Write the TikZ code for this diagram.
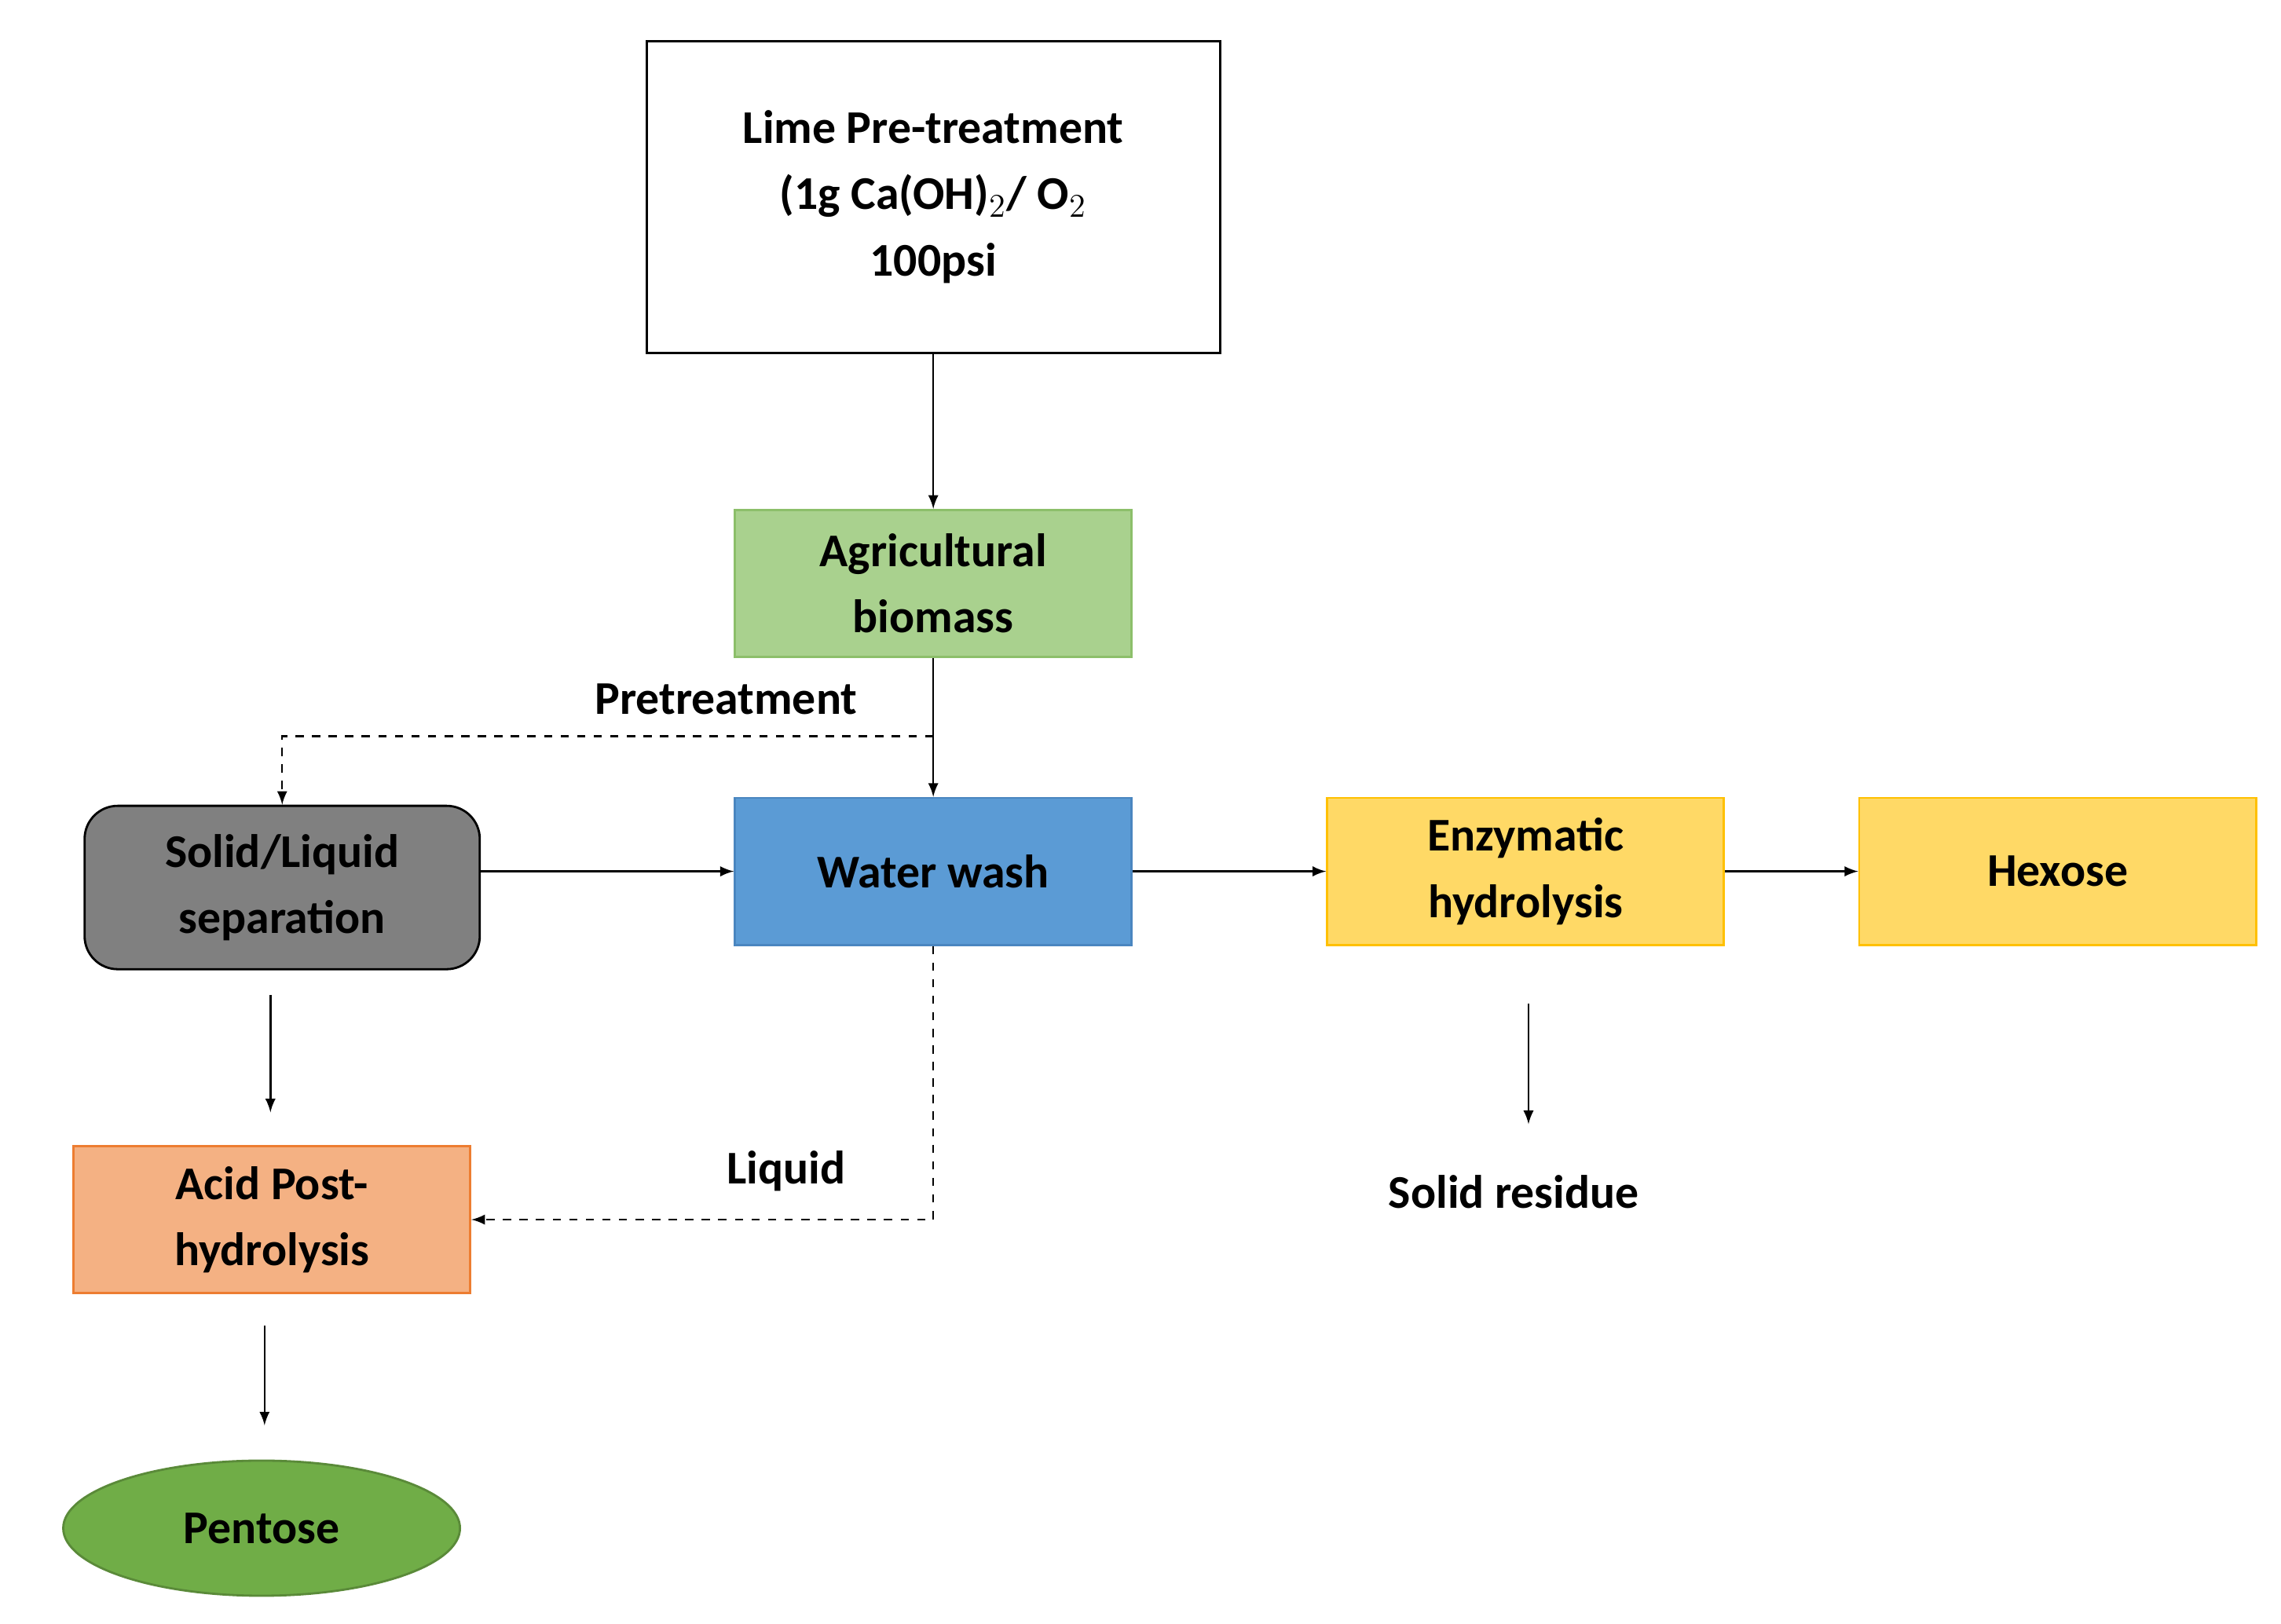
\documentclass[tikz,border=0pt]{standalone}
\usepackage{fontspec}
\setmainfont{Carlito}
\usepackage{tikz}
\usetikzlibrary{shapes,arrows}
\definecolor{agrifill}{HTML}{A9D18E}
\definecolor{agriline}{HTML}{8CBF6A}
\definecolor{washfill}{HTML}{5B9BD5}
\definecolor{washline}{HTML}{4A86C0}
\definecolor{sepfill}{HTML}{808080}
\definecolor{yelfill}{HTML}{FFD966}
\definecolor{yelline}{HTML}{FFC000}
\definecolor{acidfill}{HTML}{F4B183}
\definecolor{acidline}{HTML}{ED7D31}
\definecolor{pentfill}{HTML}{70AD47}
\tikzstyle{stage} = [rectangle, draw, text centered, align=center,
    font=\fontsize{17}{24}\selectfont\bfseries, line width=0.8pt]
\tikzstyle{line} = [draw, -latex, line width=0.7pt]
\tikzstyle{dline} = [draw, -latex, dashed, line width=0.7pt]
\tikzstyle{lbl} = [font=\fontsize{17}{24}\selectfont\bfseries]

\begin{document}
\begin{tikzpicture}[x=0.01871cm, y=-0.01871cm]
    \useasboundingbox (0,0) rectangle (1552,1105);
    % Place nodes
    \node [stage, fill=white, minimum width=7.30cm, minimum height=3.97cm] (lime) at (635,134)
        {Lime Pre-treatment\\(1g Ca(OH)$_2$/ O$_2$\\100psi};
    \node [stage, fill=agrifill, draw=agriline, minimum width=5.05cm, minimum height=1.87cm] (agri) at (635,397)
        {Agricultural\\biomass};
    \node [stage, fill=washfill, draw=washline, minimum width=5.05cm, minimum height=1.87cm] (wash) at (635,593)
        {Water wash};
    \node [stage, fill=sepfill, draw=black, rounded corners=12pt, minimum width=5.03cm, minimum height=2.08cm] (sep) at (192,604)
        {Solid/Liquid\\separation};
    \node [stage, fill=yelfill, draw=yelline, minimum width=5.05cm, minimum height=1.87cm] (enz) at (1038,593)
        {Enzymatic\\hydrolysis};
    \node [stage, fill=yelfill, draw=yelline, minimum width=5.05cm, minimum height=1.87cm] (hex) at (1400,593)
        {Hexose};
    \node [stage, fill=acidfill, draw=acidline, minimum width=5.05cm, minimum height=1.87cm] (acid) at (185,830)
        {Acid Post-\\hydrolysis};
    \node [stage, ellipse, fill=pentfill, draw=pentfill!80!black, minimum width=5.05cm, minimum height=1.72cm] (pent) at (178,1040)
        {Pentose};

    % Labels
    \node [lbl] (pretext) at (494,476) {Pretreatment};
    \node [lbl] (liqtext) at (535,797) {Liquid};
    \node [lbl] (residue) at (1030,811) {Solid residue};

    % Free ends
    \coordinate (sepA) at (184,677);
    \coordinate (sepB) at (184,757);
    \coordinate (acidA) at (180,902);
    \coordinate (acidB) at (180,970);
    \coordinate (enzA) at (1040,683);
    \coordinate (enzB) at (1040,765);
    \coordinate (split) at (635,501);
    \coordinate (turn) at (635,830);

    % Draw edges
    \path [line] (lime) -- (agri);
    \path [line] (agri) -- (wash);
    \path [dline] (split) -| (sep.north);
    \path [line] (sep.east |- wash.center) -- (wash.west);
    \path [line] (wash) -- (enz);
    \path [line] (enz) -- (hex);
    \path [dline] (wash.south) -- (turn) -- (acid.east);
    \path [line] (sepA) -- (sepB);
    \path [line] (acidA) -- (acidB);
    \path [line] (enzA) -- (enzB);
\end{tikzpicture}
\end{document}
